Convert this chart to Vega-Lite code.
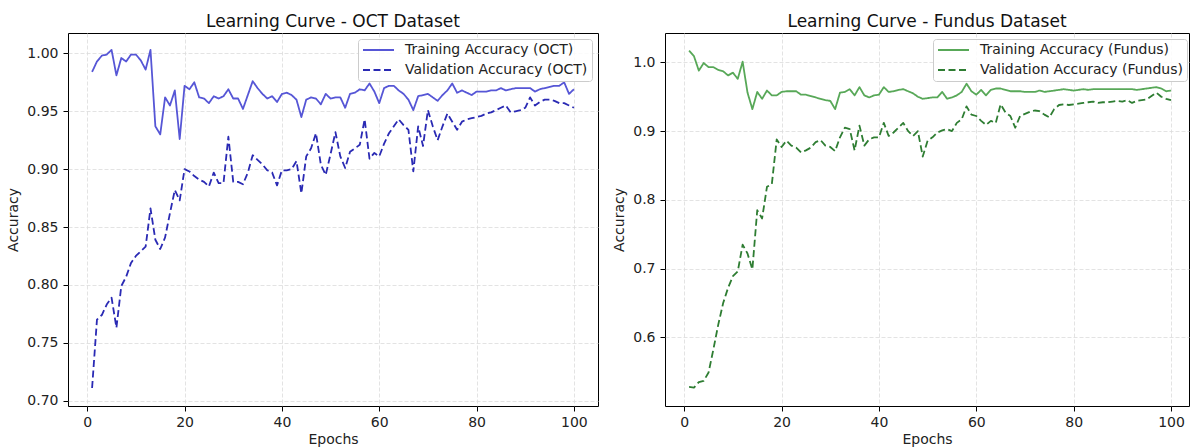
{
  "$schema": "https://vega.github.io/schema/vega-lite/v6.json",
  "padding": {"left": 6, "top": 12, "right": 0, "bottom": 0},
  "bounds": "flush",
  "spacing": 67,
  "background": "white",
  "config": {
    "font": "DejaVu Sans",
    "view": {"stroke": "#000000", "strokeWidth": 1},
    "axis": {"domain": false, "grid": true, "gridColor": "#dcdcdc", "gridDash": [4, 2], "gridWidth": 0.8, "tickColor": "#000000", "tickSize": 5, "labelFontSize": 14, "labelColor": "#222222", "labelPadding": 4, "titleFontSize": 14, "titleFontWeight": "normal", "titleColor": "#222222"},
    "axisX": {"titlePadding": 3},
    "axisY": {"titlePadding": 6, "labelPadding": 5},
    "title": {"fontSize": 17, "fontWeight": "normal", "color": "#111111", "offset": 2},
    "legend": {"symbolType": "stroke", "symbolSize": 961, "symbolStrokeWidth": 2, "clipHeight": 14, "labelFontSize": 14, "labelColor": "#222222", "labelOffset": 10, "labelLimit": 400, "padding": 4, "rowPadding": 6, "strokeColor": "#cccccc", "fillColor": "rgba(255,255,255,0.85)", "cornerRadius": 3}
  },
  "datasets": {
    "oct": [
      {"e":1,"t":0.984,"v":0.711},{"e":2,"t":0.993,"v":0.770},{"e":3,"t":0.998,"v":0.774},{"e":4,"t":0.999,"v":0.783},{"e":5,"t":1.003,"v":0.789},
      {"e":6,"t":0.981,"v":0.763},{"e":7,"t":0.996,"v":0.799},{"e":8,"t":0.993,"v":0.807},{"e":9,"t":0.999,"v":0.819},{"e":10,"t":0.999,"v":0.825},
      {"e":11,"t":0.994,"v":0.829},{"e":12,"t":0.986,"v":0.833},{"e":13,"t":1.003,"v":0.866},{"e":14,"t":0.937,"v":0.839},{"e":15,"t":0.930,"v":0.831},
      {"e":16,"t":0.962,"v":0.841},{"e":17,"t":0.955,"v":0.862},{"e":18,"t":0.968,"v":0.882},{"e":19,"t":0.926,"v":0.873},{"e":20,"t":0.972,"v":0.900},
      {"e":21,"t":0.969,"v":0.898},{"e":22,"t":0.975,"v":0.894},{"e":23,"t":0.962,"v":0.891},{"e":24,"t":0.961,"v":0.889},{"e":25,"t":0.957,"v":0.885},
      {"e":26,"t":0.963,"v":0.897},{"e":27,"t":0.961,"v":0.888},{"e":28,"t":0.963,"v":0.888},{"e":29,"t":0.969,"v":0.928},{"e":30,"t":0.961,"v":0.889},
      {"e":31,"t":0.961,"v":0.889},{"e":32,"t":0.952,"v":0.887},{"e":33,"t":0.964,"v":0.897},{"e":34,"t":0.976,"v":0.912},{"e":35,"t":0.970,"v":0.908},
      {"e":36,"t":0.965,"v":0.904},{"e":37,"t":0.961,"v":0.899},{"e":38,"t":0.963,"v":0.897},{"e":39,"t":0.958,"v":0.886},{"e":40,"t":0.965,"v":0.899},
      {"e":41,"t":0.966,"v":0.899},{"e":42,"t":0.964,"v":0.900},{"e":43,"t":0.960,"v":0.907},{"e":44,"t":0.945,"v":0.879},{"e":45,"t":0.960,"v":0.911},
      {"e":46,"t":0.962,"v":0.918},{"e":47,"t":0.961,"v":0.931},{"e":48,"t":0.956,"v":0.904},{"e":49,"t":0.965,"v":0.895},{"e":50,"t":0.961,"v":0.913},
      {"e":51,"t":0.962,"v":0.932},{"e":52,"t":0.962,"v":0.911},{"e":53,"t":0.953,"v":0.901},{"e":54,"t":0.965,"v":0.915},{"e":55,"t":0.966,"v":0.918},
      {"e":56,"t":0.969,"v":0.921},{"e":57,"t":0.968,"v":0.943},{"e":58,"t":0.974,"v":0.909},{"e":59,"t":0.967,"v":0.914},{"e":60,"t":0.957,"v":0.911},
      {"e":61,"t":0.970,"v":0.922},{"e":62,"t":0.972,"v":0.931},{"e":63,"t":0.972,"v":0.937},{"e":64,"t":0.968,"v":0.943},{"e":65,"t":0.965,"v":0.938},
      {"e":66,"t":0.960,"v":0.934},{"e":67,"t":0.951,"v":0.898},{"e":68,"t":0.963,"v":0.937},{"e":69,"t":0.964,"v":0.920},{"e":70,"t":0.965,"v":0.951},
      {"e":71,"t":0.962,"v":0.937},{"e":72,"t":0.959,"v":0.925},{"e":73,"t":0.964,"v":0.937},{"e":74,"t":0.968,"v":0.948},{"e":75,"t":0.974,"v":0.941},
      {"e":76,"t":0.966,"v":0.934},{"e":77,"t":0.968,"v":0.941},{"e":78,"t":0.966,"v":0.943},{"e":79,"t":0.964,"v":0.944},{"e":80,"t":0.967,"v":0.945},
      {"e":81,"t":0.967,"v":0.946},{"e":82,"t":0.967,"v":0.948},{"e":83,"t":0.968,"v":0.949},{"e":84,"t":0.968,"v":0.951},{"e":85,"t":0.970,"v":0.953},
      {"e":86,"t":0.968,"v":0.955},{"e":87,"t":0.969,"v":0.949},{"e":88,"t":0.970,"v":0.950},{"e":89,"t":0.970,"v":0.951},{"e":90,"t":0.970,"v":0.953},
      {"e":91,"t":0.970,"v":0.962},{"e":92,"t":0.967,"v":0.955},{"e":93,"t":0.969,"v":0.958},{"e":94,"t":0.970,"v":0.960},{"e":95,"t":0.971,"v":0.960},
      {"e":96,"t":0.972,"v":0.959},{"e":97,"t":0.972,"v":0.957},{"e":98,"t":0.975,"v":0.957},{"e":99,"t":0.965,"v":0.955},{"e":100,"t":0.969,"v":0.953}
    ],
    "fundus": [
      {"e":1,"t":1.017,"v":0.528},{"e":2,"t":1.009,"v":0.527},{"e":3,"t":0.988,"v":0.535},{"e":4,"t":0.999,"v":0.537},{"e":5,"t":0.993,"v":0.549},
      {"e":6,"t":0.993,"v":0.583},{"e":7,"t":0.989,"v":0.619},{"e":8,"t":0.987,"v":0.650},{"e":9,"t":0.981,"v":0.672},{"e":10,"t":0.985,"v":0.689},
      {"e":11,"t":0.976,"v":0.696},{"e":12,"t":1.001,"v":0.735},{"e":13,"t":0.956,"v":0.722},{"e":14,"t":0.932,"v":0.699},{"e":15,"t":0.957,"v":0.785},
      {"e":16,"t":0.947,"v":0.773},{"e":17,"t":0.959,"v":0.819},{"e":18,"t":0.952,"v":0.823},{"e":19,"t":0.952,"v":0.888},{"e":20,"t":0.957,"v":0.877},
      {"e":21,"t":0.958,"v":0.886},{"e":22,"t":0.958,"v":0.879},{"e":23,"t":0.958,"v":0.876},{"e":24,"t":0.953,"v":0.869},{"e":25,"t":0.953,"v":0.872},
      {"e":26,"t":0.951,"v":0.876},{"e":27,"t":0.949,"v":0.884},{"e":28,"t":0.947,"v":0.887},{"e":29,"t":0.945,"v":0.879},{"e":30,"t":0.944,"v":0.877},
      {"e":31,"t":0.932,"v":0.871},{"e":32,"t":0.956,"v":0.891},{"e":33,"t":0.957,"v":0.905},{"e":34,"t":0.961,"v":0.903},{"e":35,"t":0.952,"v":0.872},
      {"e":36,"t":0.964,"v":0.908},{"e":37,"t":0.952,"v":0.879},{"e":38,"t":0.949,"v":0.888},{"e":39,"t":0.952,"v":0.891},{"e":40,"t":0.953,"v":0.891},
      {"e":41,"t":0.964,"v":0.912},{"e":42,"t":0.957,"v":0.893},{"e":43,"t":0.958,"v":0.898},{"e":44,"t":0.960,"v":0.905},{"e":45,"t":0.961,"v":0.912},
      {"e":46,"t":0.958,"v":0.900},{"e":47,"t":0.955,"v":0.893},{"e":48,"t":0.950,"v":0.900},{"e":49,"t":0.947,"v":0.863},{"e":50,"t":0.948,"v":0.886},
      {"e":51,"t":0.949,"v":0.891},{"e":52,"t":0.949,"v":0.898},{"e":53,"t":0.957,"v":0.901},{"e":54,"t":0.947,"v":0.903},{"e":55,"t":0.949,"v":0.900},
      {"e":56,"t":0.952,"v":0.912},{"e":57,"t":0.957,"v":0.917},{"e":58,"t":0.969,"v":0.936},{"e":59,"t":0.958,"v":0.924},{"e":60,"t":0.953,"v":0.922},
      {"e":61,"t":0.960,"v":0.915},{"e":62,"t":0.952,"v":0.909},{"e":63,"t":0.960,"v":0.915},{"e":64,"t":0.962,"v":0.912},{"e":65,"t":0.962,"v":0.939},
      {"e":66,"t":0.960,"v":0.927},{"e":67,"t":0.958,"v":0.922},{"e":68,"t":0.958,"v":0.905},{"e":69,"t":0.958,"v":0.922},{"e":70,"t":0.957,"v":0.925},
      {"e":71,"t":0.957,"v":0.928},{"e":72,"t":0.957,"v":0.930},{"e":73,"t":0.959,"v":0.929},{"e":74,"t":0.957,"v":0.924},{"e":75,"t":0.958,"v":0.920},
      {"e":76,"t":0.959,"v":0.932},{"e":77,"t":0.960,"v":0.938},{"e":78,"t":0.961,"v":0.939},{"e":79,"t":0.960,"v":0.938},{"e":80,"t":0.959,"v":0.939},
      {"e":81,"t":0.960,"v":0.940},{"e":82,"t":0.961,"v":0.941},{"e":83,"t":0.960,"v":0.942},{"e":84,"t":0.961,"v":0.943},{"e":85,"t":0.961,"v":0.941},
      {"e":86,"t":0.961,"v":0.942},{"e":87,"t":0.961,"v":0.942},{"e":88,"t":0.961,"v":0.943},{"e":89,"t":0.961,"v":0.944},{"e":90,"t":0.961,"v":0.943},
      {"e":91,"t":0.961,"v":0.945},{"e":92,"t":0.961,"v":0.941},{"e":93,"t":0.960,"v":0.944},{"e":94,"t":0.961,"v":0.945},{"e":95,"t":0.962,"v":0.946},
      {"e":96,"t":0.963,"v":0.951},{"e":97,"t":0.964,"v":0.956},{"e":98,"t":0.962,"v":0.950},{"e":99,"t":0.958,"v":0.947},{"e":100,"t":0.959,"v":0.945}
    ]
  },
  "resolve": {
    "scale": {"x": "independent", "y": "independent", "color": "independent", "strokeDash": "independent"},
    "legend": {"color": "independent", "strokeDash": "independent"}
  },
  "hconcat": [
    {
      "width": 530,
      "height": 373,
      "data": {"name": "oct"},
      "transform": [{"fold": ["t", "v"], "as": ["series", "acc"]}],
      "title": {"text": "Learning Curve - OCT Dataset"},
      "mark": {"type": "line", "strokeWidth": 1.8, "strokeJoin": "round"},
      "encoding": {
        "x": {"field": "e", "type": "quantitative", "scale": {"domain": [-3.95, 104.95], "nice": false, "zero": false}, "axis": {"title": "Epochs", "values": [0, 20, 40, 60, 80, 100]}},
        "y": {"field": "acc", "type": "quantitative", "scale": {"domain": [0.6954, 1.0176], "nice": false, "zero": false}, "axis": {"title": "Accuracy", "values": [0.7, 0.75, 0.8, 0.85, 0.9, 0.95, 1.0], "format": ".2f"}},
        "color": {"field": "series", "type": "nominal", "scale": {"domain": ["t", "v"], "range": ["#5656d6", "#2a2ab4"]},
          "legend": {"title": null, "orient": "top-right", "offset": 6, "labelExpr": "datum.label == 't' ? 'Training Accuracy (OCT)' : 'Validation Accuracy (OCT)'"}},
        "strokeDash": {"field": "series", "type": "nominal", "scale": {"domain": ["t", "v"], "range": [[1, 0], [7, 3.5]]},
          "legend": {"title": null, "orient": "top-right", "offset": 6, "labelExpr": "datum.label == 't' ? 'Training Accuracy (OCT)' : 'Validation Accuracy (OCT)'"}}
      }
    },
    {
      "width": 524,
      "height": 373,
      "data": {"name": "fundus"},
      "transform": [{"fold": ["t", "v"], "as": ["series", "acc"]}],
      "title": {"text": "Learning Curve - Fundus Dataset"},
      "mark": {"type": "line", "strokeWidth": 1.8, "strokeJoin": "round"},
      "encoding": {
        "x": {"field": "e", "type": "quantitative", "scale": {"domain": [-3.95, 103.7], "nice": false, "zero": false}, "axis": {"title": "Epochs", "values": [0, 20, 40, 60, 80, 100]}},
        "y": {"field": "acc", "type": "quantitative", "scale": {"domain": [0.5003, 1.0427], "nice": false, "zero": false}, "axis": {"title": "Accuracy", "values": [0.6, 0.7, 0.8, 0.9, 1.0], "format": ".1f"}},
        "color": {"field": "series", "type": "nominal", "scale": {"domain": ["t", "v"], "range": ["#58a858", "#2e7d32"]},
          "legend": {"title": null, "orient": "none", "legendX": 268, "legendY": 6, "labelExpr": "datum.label == 't' ? 'Training Accuracy (Fundus)' : 'Validation Accuracy (Fundus)'"}},
        "strokeDash": {"field": "series", "type": "nominal", "scale": {"domain": ["t", "v"], "range": [[1, 0], [7, 3.5]]},
          "legend": {"title": null, "orient": "none", "legendX": 268, "legendY": 6, "labelExpr": "datum.label == 't' ? 'Training Accuracy (Fundus)' : 'Validation Accuracy (Fundus)'"}}
      }
    }
  ]
}
